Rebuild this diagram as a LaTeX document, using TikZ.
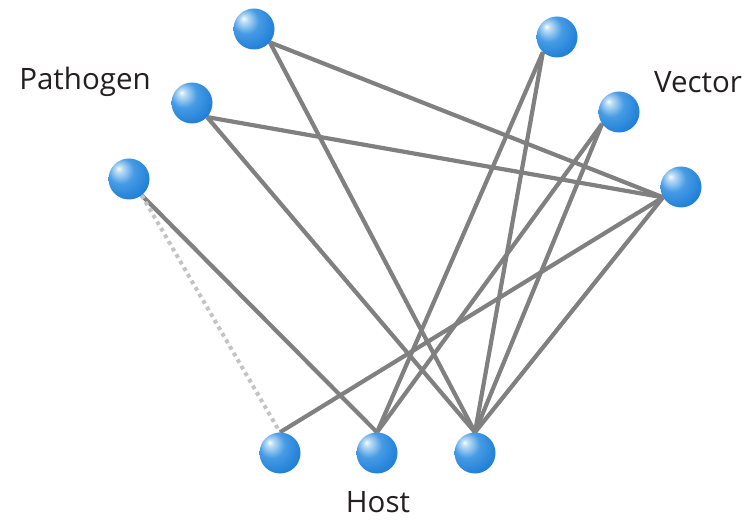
\documentclass[tikz,border=0pt]{standalone}
\usepackage{fontspec}
\setmainfont{Open Sans}
\usetikzlibrary{backgrounds}
\definecolor{linkgray}{RGB}{128,128,128}
\definecolor{dotgray}{RGB}{195,195,195}
\definecolor{labelink}{RGB}{35,31,32}
\definecolor{sphhi}{RGB}{250,252,255}
\definecolor{sphlight}{RGB}{190,222,246}
\definecolor{sphmid}{RGB}{70,155,228}
\definecolor{sphbody}{RGB}{30,125,215}
\definecolor{sphrim}{RGB}{18,96,186}
% glossy blue sphere, highlight up and to the left
\pgfdeclareradialshading{sphereblue}{\pgfpoint{-13bp}{13bp}}{%
  color(0bp)=(sphhi); color(4bp)=(sphlight); color(16bp)=(sphmid);
  color(34bp)=(sphbody); color(56bp)=(sphrim); color(70bp)=(sphrim)}
\begin{document}
\begin{tikzpicture}[x=1pt,y=-1pt,
  sphere/.style={circle,inner sep=0pt,minimum size=41pt,shading=sphereblue},
  link/.style={draw=linkgray,line width=4.2pt},
  weaklink/.style={draw=dotgray,line width=4pt,dash pattern=on 3.8pt off 3.8pt},
  grouplabel/.style={font=\fontsize{29.5}{33}\selectfont,text=labelink}]
\useasboundingbox (0,0) rectangle (744,521);
% pathogen nodes
\node[sphere] (p1) at (254,29) {};
\node[sphere] (p2) at (192,103) {};
\node[sphere] (p3) at (129,179) {};
% vector nodes
\node[sphere] (v1) at (557,37) {};
\node[sphere] (v2) at (619,112) {};
\node[sphere] (v3) at (681,187) {};
% host nodes
\node[sphere] (h1) at (280,453) {};
\node[sphere] (h2) at (377,453) {};
\node[sphere] (h3) at (475,453) {};
% group labels
\node[grouplabel] (lp) at (85,82) {Pathogen};
\node[grouplabel] (lv) at (698,82) {Vector};
\node[grouplabel] (lh) at (378,502) {Host};
% interaction links, kept behind the spheres
\begin{scope}[on background layer]
  \draw[link] (p1.-40) -- (v3.-150);
  \draw[link] (p1.-40) -- (h3.north);
  \draw[link] (p2.-43) -- (v3.-150);
  \draw[link] (p2.-43) -- (h3.north);
  \draw[link] (p3.-52) -- (h2.north);
  \draw[weaklink] (p3.-52) -- (h1.north);
  \draw[link] (v1.-133) -- (h2.north);
  \draw[link] (v1.-133) -- (h3.north);
  \draw[link] (v2.-145) -- (h2.north);
  \draw[link] (v2.-145) -- (h3.north);
  \draw[link] (v3.-150) -- (h1.north);
  \draw[link] (v3.-150) -- (h3.north);
\end{scope}
\end{tikzpicture}
\end{document}
